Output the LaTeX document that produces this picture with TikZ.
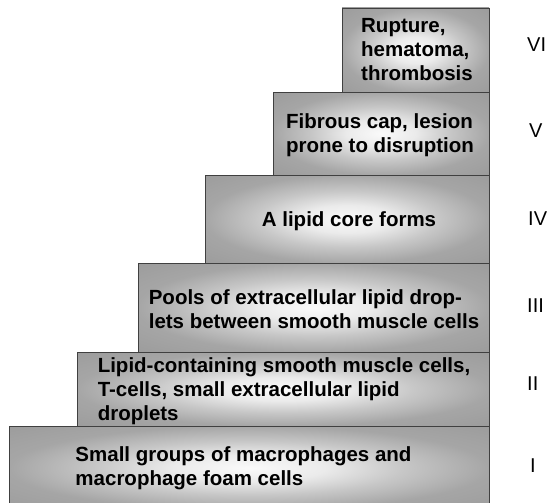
\documentclass[tikz,border=0pt]{standalone}
\usepackage{fontspec}
\setmainfont{Liberation Sans}
\pgfdeclareradialshading{stepshade}{\pgfpoint{0bp}{0bp}}{%
  color(0bp)=(black!2);
  color(8bp)=(black!8);
  color(16bp)=(black!22);
  color(25bp)=(black!35);
  color(36bp)=(black!39);
  color(50bp)=(black!40)}
\definecolor{boxline}{gray}{0.25}
\tikzset{
  stepbox/.style={shade, shading=stepshade, draw=boxline, line width=0.9pt},
  steptext/.style={font=\bfseries\fontsize{20.5}{24}\selectfont, align=left, inner sep=0pt, text=black},
  stagelabel/.style={font=\fontsize{20}{24}\selectfont, anchor=west, inner sep=0pt, text=black}
}
\begin{document}
\begin{tikzpicture}[x=1pt,y=-1pt]
\useasboundingbox (0,0) rectangle (554,503);
\clip (0,0) rectangle (554,503);
% boxes
\path[stepbox] (9,426) rectangle (489,510);
\path[stepbox] (77,352) rectangle (489,426);
\path[stepbox] (138,263) rectangle (489,352);
\path[stepbox] (205,175) rectangle (489,263);
\path[stepbox] (273,92) rectangle (489,175);
\path[stepbox] (342,8) rectangle (489,92);
% texts
\node[steptext] (t1) at (243.5,468) {Small groups of macrophages and\\macrophage foam cells};
\node[steptext] (t2) at (284,391) {Lipid-containing smooth muscle cells,\\T-cells, small extracellular lipid\\droplets};
\node[steptext] (t3) at (314,309) {Pools of extracellular lipid drop-\\lets between smooth muscle cells};
\node[steptext] (t4) at (349,221) {A lipid core forms};
\node[steptext] (t5) at (380,135) {Fibrous cap, lesion\\prone to disruption};
\node[steptext] (t6) at (417,50) {Rupture,\\hematoma,\\thrombosis};
% stage labels
\node[stagelabel] (s6) at (527,45) {VI};
\node[stagelabel] (s5) at (529,131) {V};
\node[stagelabel] (s4) at (528,219) {IV};
\node[stagelabel] (s3) at (527,306) {III};
\node[stagelabel] (s2) at (527,384) {II};
\node[stagelabel] (s1) at (530,466) {I};
\end{tikzpicture}
\end{document}
